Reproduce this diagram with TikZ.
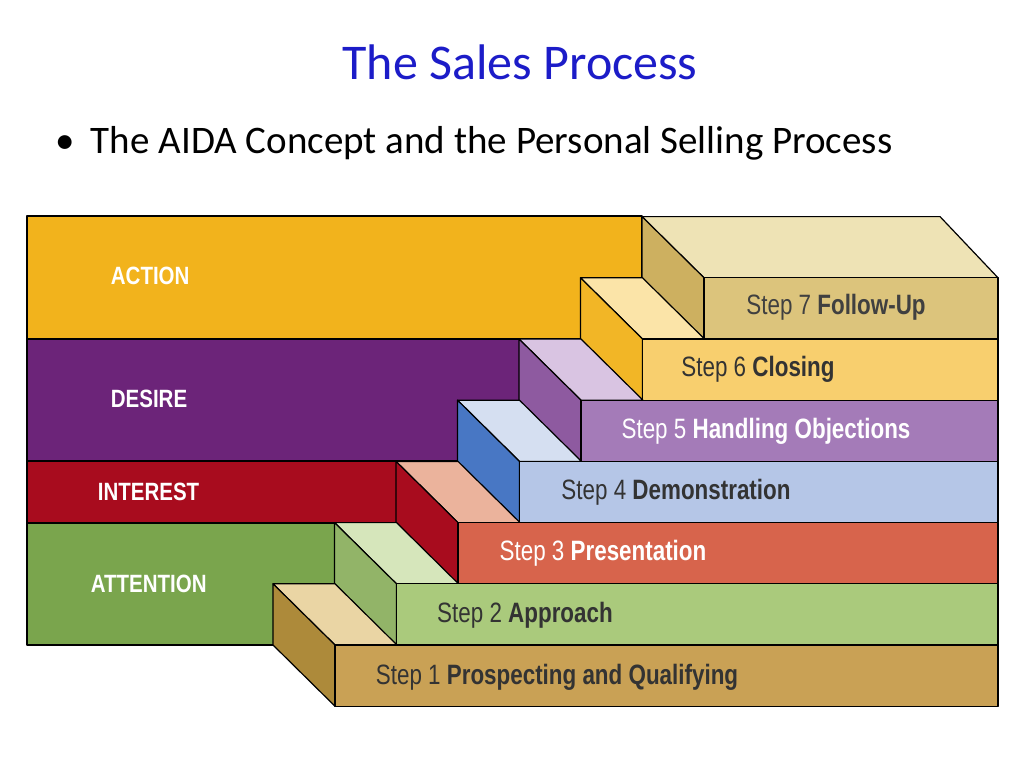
\documentclass[tikz,border=0pt]{standalone}
\usepackage{fontspec}
\setmainfont{Carlito}
\newfontfamily\stepfont{Liberation Sans}
\definecolor{titleblue}{HTML}{1C1CC8}
\definecolor{cact}{HTML}{F2B31C}
\definecolor{cdes}{HTML}{6C2479}
\definecolor{cint}{HTML}{A80C1E}
\definecolor{catt}{HTML}{7AA54D}
\definecolor{f7}{HTML}{DCC47C}\definecolor{t7}{HTML}{EEE3B5}\definecolor{s7}{HTML}{CDB060}
\definecolor{f6}{HTML}{F8CF6E}\definecolor{t6}{HTML}{FBE4A8}\definecolor{s6}{HTML}{F2B626}
\definecolor{f5}{HTML}{A47BB8}\definecolor{t5}{HTML}{D9C4E2}\definecolor{s5}{HTML}{8E5AA0}
\definecolor{f4}{HTML}{B5C6E7}\definecolor{t4}{HTML}{D5DFF1}\definecolor{s4}{HTML}{4877C4}
\definecolor{f3}{HTML}{D7644C}\definecolor{t3}{HTML}{EBB39C}\definecolor{s3}{HTML}{A80C1E}
\definecolor{f2}{HTML}{AACA7C}\definecolor{t2}{HTML}{D6E6BB}\definecolor{s2}{HTML}{92B468}
\definecolor{f1}{HTML}{C9A155}\definecolor{t1}{HTML}{EAD5A4}\definecolor{s1}{HTML}{AD8A3A}
\tikzset{face/.style={draw=black,line width=1.2pt,line join=round},
aida/.style={text=white,font=\stepfont\bfseries\fontsize{25}{25}\selectfont,xscale=0.82,anchor=west},
steplbl/.style={font=\stepfont\fontsize{28}{28}\selectfont,xscale=0.8}}
\begin{document}
\begin{tikzpicture}[x=1pt,y=-1pt]
\useasboundingbox (0,0) rectangle (1024,768);
\node[text=titleblue,font=\fontsize{50}{50}\selectfont] (title) at (520,62) {The Sales Process};
\node[font=\fontsize{39}{39}\selectfont,anchor=west] (bullet) at (52,143) {\textbullet\hspace{16pt}The AIDA Concept and the Personal Selling Process};
% bands
\fill[cact,face] (27,216) rectangle (642,339);
\fill[cact] (642,278) rectangle (704,339);
\fill[cdes,face] (27,339) rectangle (581,461);
\fill[cint,face] (27,461) rectangle (458,523);
\fill[catt,face] (27,523) rectangle (335,645);
% steps
\foreach \k in {7,6,...,1}{
  \pgfmathsetmacro{\X}{335+61.5*(\k-1)}
  \pgfmathsetmacro{\Y}{645-61.2*(\k-1)}
  \pgfmathsetmacro{\Xb}{\X-62}
  \pgfmathsetmacro{\Yb}{\Y-61.2}
  \pgfmathsetmacro{\Yf}{\Y+61.2}
  \pgfmathsetmacro{\Xn}{\X+62}
  \ifnum\k=7
    \fill[t\k,face] (\Xb,\Yb) -- (940,\Yb) -- (998,\Y) -- (\X,\Y) -- cycle;
  \else
    \fill[t\k,face] (\Xb,\Yb) -- (\X,\Yb) -- (\Xn,\Y) -- (\X,\Y) -- cycle;
  \fi
  \fill[s\k,face] (\Xb,\Yb) -- (\X,\Y) -- (\X,\Yf) -- (\Xb,\Y) -- cycle;
  \fill[f\k,face] (\X,\Y) rectangle (998,\Yf);
}
\node[aida] (action) at (108,276) {ACTION};
\node[aida] (desire) at (108,399) {DESIRE};
\node[aida] (interest) at (95,492) {INTEREST};
\node[aida] (attention) at (88,584) {ATTENTION};
\node[steplbl,text=black!75] (s7) at (836,307) {Step 7 \textbf{Follow-Up}};
\node[steplbl,text=black!80] (s6) at (758,369) {Step 6 \textbf{Closing}};
\node[steplbl,text=white] (s5) at (766,431) {Step 5 \textbf{Handling Objections}};
\node[steplbl,text=black!80] (s4) at (676,492) {Step 4 \textbf{Demonstration}};
\node[steplbl,text=white] (s3) at (603,553) {Step 3 \textbf{Presentation}};
\node[steplbl,text=black!80] (s2) at (525,615) {Step 2 \textbf{Approach}};
\node[steplbl,text=black!80] (s1) at (557,677) {Step 1 \textbf{Prospecting and Qualifying}};
\end{tikzpicture}
\end{document}
